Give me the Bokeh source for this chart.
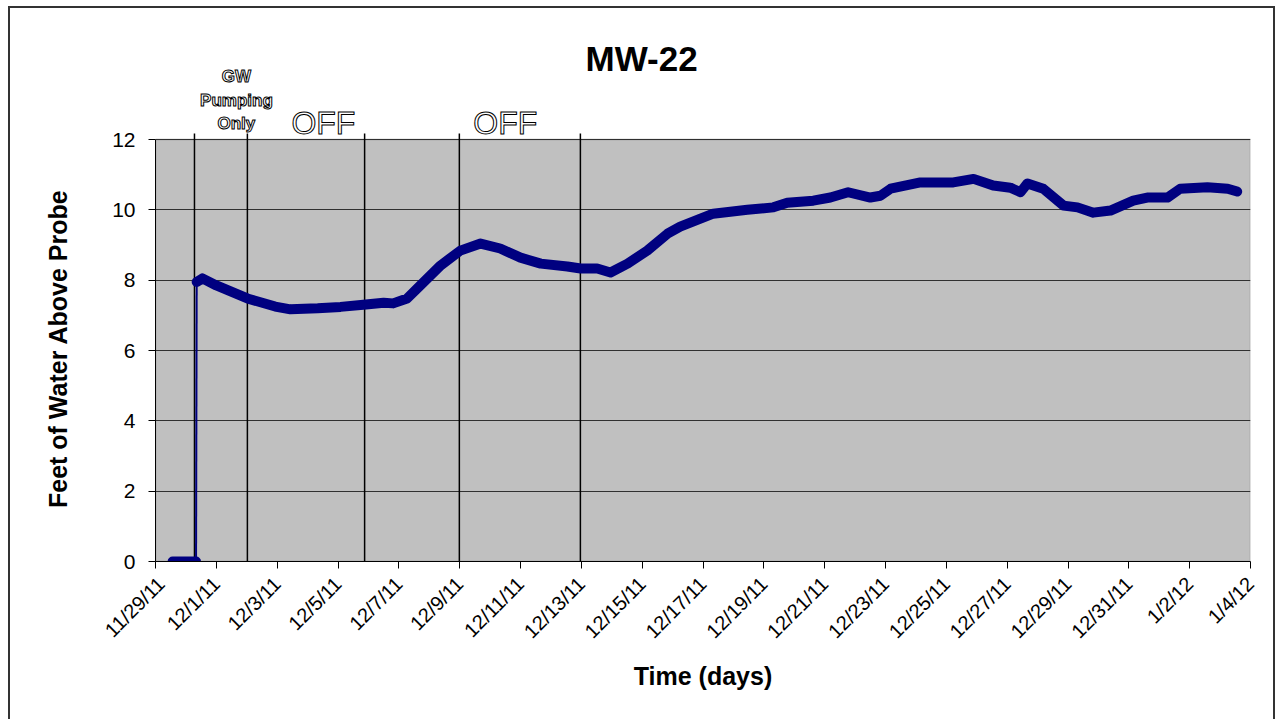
import pandas as pd
from bokeh.plotting import figure
from bokeh.layouts import row
from bokeh.models import Range1d, FixedTicker, Label, BoxAnnotation
from bokeh.embed import file_html
from bokeh.resources import INLINE
import math

# ---------------- data ----------------
start_date = "2011-11-29 00:00"

tick_dates = ["2011-11-29", "2011-12-01", "2011-12-03", "2011-12-05", "2011-12-07",
              "2011-12-09", "2011-12-11", "2011-12-13", "2011-12-15", "2011-12-17",
              "2011-12-19", "2011-12-21", "2011-12-23", "2011-12-25", "2011-12-27",
              "2011-12-29", "2011-12-31", "2012-01-02", "2012-01-04"]
tick_labels = ["11/29/11", "12/1/11", "12/3/11", "12/5/11", "12/7/11", "12/9/11",
               "12/11/11", "12/13/11", "12/15/11", "12/17/11", "12/19/11", "12/21/11",
               "12/23/11", "12/25/11", "12/27/11", "12/29/11", "12/31/11", "1/2/12", "1/4/12"]

y_ticks = [0, 2, 4, 6, 8, 10, 12]

# probe reading before install (zero)
pre_times = ["2011-11-29 13:30", "2011-11-29 20:00", "2011-11-30 02:00", "2011-11-30 08:00"]
pre_level = [0.0, 0.0, 0.0, 0.0]

# water level above probe
level_times = [
    "2011-11-30 08:30", "2011-11-30 13:00", "2011-12-01 00:00", "2011-12-02 00:30",
    "2011-12-02 22:30", "2011-12-03 10:30", "2011-12-04 08:00", "2011-12-05 02:00",
    "2011-12-05 20:00", "2011-12-06 12:00", "2011-12-06 19:30", "2011-12-07 06:30",
    "2011-12-07 17:00", "2011-12-08 09:00", "2011-12-09 00:30", "2011-12-09 16:30",
    "2011-12-10 08:00", "2011-12-11 00:00", "2011-12-11 16:00", "2011-12-12 13:00",
    "2011-12-12 23:30", "2011-12-13 12:30", "2011-12-13 23:00", "2011-12-14 12:30",
    "2011-12-15 04:00", "2011-12-15 20:00", "2011-12-16 06:00", "2011-12-17 08:00",
    "2011-12-18 11:00", "2011-12-19 07:30", "2011-12-19 18:30", "2011-12-20 15:00",
    "2011-12-21 04:30", "2011-12-21 18:30", "2011-12-22 12:00", "2011-12-22 20:00",
    "2011-12-23 04:00", "2011-12-24 03:30", "2011-12-25 05:30", "2011-12-25 21:30",
    "2011-12-26 13:00", "2011-12-27 02:30", "2011-12-27 10:30", "2011-12-27 16:00",
    "2011-12-28 04:30", "2011-12-28 20:30", "2011-12-29 07:30", "2011-12-29 20:00",
    "2011-12-30 09:30", "2011-12-31 03:30", "2011-12-31 14:30", "2012-01-01 06:30",
    "2012-01-01 16:30", "2012-01-02 14:00", "2012-01-03 06:00", "2012-01-03 13:30"]
level_ft = [
    7.95, 8.05, 7.85, 7.48,
    7.25, 7.17, 7.20, 7.24,
    7.30, 7.36, 7.34, 7.48,
    7.85, 8.42, 8.84, 9.04,
    8.90, 8.64, 8.47, 8.39,
    8.33, 8.33, 8.22, 8.47,
    8.84, 9.32, 9.52, 9.89,
    10.00, 10.07, 10.20, 10.26,
    10.35, 10.50, 10.35, 10.40,
    10.60, 10.78, 10.78, 10.88,
    10.69, 10.63, 10.50, 10.75,
    10.60, 10.12, 10.07, 9.92,
    9.98, 10.26, 10.35, 10.35,
    10.60, 10.64, 10.60, 10.52]

# operating-mode change times (vertical markers)
event_times = ["2011-11-30 06:45", "2011-12-02 00:30", "2011-12-05 21:00",
               "2011-12-08 23:45", "2011-12-12 23:15"]

# ---------------- helpers ----------------
t0 = pd.Timestamp(start_date)
def to_days(ts):
    return [(pd.Timestamp(t) - t0) / pd.Timedelta(days=1) for t in ts]

tick_x = to_days(tick_dates)
pre_x = to_days(pre_times)
lvl_x = to_days(level_times)
evt_x = to_days(event_times)

FONT = "Liberation Sans"
NAVY = "#000080"
TOTAL_W, H = 1263, 711
LABEL_W = 90                          # strip holding the y-axis title
TOP, BOTTOM = 12, 158                 # border sizes (px)
PLOT_H = 422                          # pixel height of the grey 0..12 area
frame_h = H - TOP - BOTTOM
y_top = y_ticks[-1] * frame_h / PLOT_H  # frame extends above the grey area for notes
y_range = Range1d(0, y_top)

# ---------------- y-axis title strip ----------------
lab_fig = figure(width=LABEL_W, height=H, output_backend="svg", toolbar_location=None,
                 x_range=Range1d(0, LABEL_W), y_range=y_range,
                 x_axis_location=None, y_axis_location=None,
                 min_border_left=0, min_border_right=0, min_border_top=TOP,
                 min_border_bottom=BOTTOM)
lab_fig.background_fill_color = "white"
lab_fig.border_fill_color = "white"
lab_fig.outline_line_color = None
lab_fig.xgrid.grid_line_color = None
lab_fig.ygrid.grid_line_color = None
lab_fig.add_layout(Label(x=47, y=6.05, text="Feet of Water Above Probe", angle=math.pi / 2,
                         text_align="center", text_baseline="middle", text_font=FONT,
                         text_font_size="25px", text_font_style="bold",
                         text_color="black"))

# ---------------- main chart ----------------
p = figure(width=TOTAL_W - LABEL_W, height=H, output_backend="svg", toolbar_location=None,
           x_range=Range1d(tick_x[0], tick_x[-1]), y_range=y_range,
           min_border_left=55, min_border_right=23, min_border_top=TOP,
           min_border_bottom=BOTTOM)
p.background_fill_color = "white"
p.border_fill_color = "white"
p.outline_line_color = None

plot_area = BoxAnnotation(bottom=y_ticks[0], top=y_ticks[-1], fill_color="#C0C0C0",
                          fill_alpha=1.0, line_color="#808080", line_width=2,
                          level="image")
p.add_layout(plot_area)

p.xgrid.grid_line_color = None
p.ygrid.ticker = FixedTicker(ticks=y_ticks)
p.ygrid.grid_line_color = "#303030"
p.ygrid.grid_line_width = 1

xa = p.xaxis[0]
xa.ticker = FixedTicker(ticks=tick_x)
xa.major_label_overrides = {tx: lab for tx, lab in zip(tick_x, tick_labels)}
xa.major_label_orientation = math.pi / 4
xa.major_label_text_font = FONT
xa.major_label_text_font_size = "20px"
xa.major_label_text_color = "black"
xa.major_label_standoff = 12
xa.major_tick_out = 7
xa.major_tick_in = 0
xa.minor_tick_out = 0
xa.minor_tick_in = 0
xa.axis_line_color = "black"
xa.major_tick_line_color = "black"
xa.axis_label = "Time (days)"
xa.axis_label_text_font = FONT
xa.axis_label_text_font_size = "25px"
xa.axis_label_text_font_style = "bold"
xa.axis_label_text_color = "black"
xa.axis_label_standoff = 9

ya = p.yaxis[0]
ya.bounds = (y_ticks[0], y_ticks[-1])
ya.ticker = FixedTicker(ticks=y_ticks)
ya.major_label_text_font = FONT
ya.major_label_text_font_size = "21px"
ya.major_label_text_color = "black"
ya.major_label_standoff = 13
ya.major_tick_out = 7
ya.major_tick_in = 0
ya.minor_tick_out = 0
ya.minor_tick_in = 0
ya.axis_line_color = "black"
ya.major_tick_line_color = "black"

# event markers
p.segment(x0=evt_x, y0=[0] * len(evt_x), x1=evt_x, y1=[12.17] * len(evt_x),
          line_color="black", line_width=1.5)

# data
p.line(pre_x, pre_level, line_color=NAVY, line_width=10, line_cap="round", line_join="round")
p.line([pre_x[-1], lvl_x[0]], [pre_level[-1], level_ft[0]], line_color=NAVY, line_width=2)
p.line(lvl_x, level_ft, line_color=NAVY, line_width=10, line_cap="round", line_join="round")

# chart title (centred over the whole chart)
p.add_layout(Label(x=15.98, y=14.30, text="MW-22", text_align="center",
                   text_baseline="middle", text_font=FONT, text_font_size="35px",
                   text_font_style="bold", text_color="black"))

# outlined notes above the grey area
def outlined(x, y, text, size, bold=False):
    p.add_layout(Label(x=x, y=y, text=text, text_align="center", text_baseline="middle",
                       text_font=FONT, text_font_size=size,
                       text_font_style="bold" if bold else "normal",
                       text_color="white", text_outline_color="black"))

outlined(2.66, 13.78, "GW", "17px", bold=True)
outlined(2.66, 13.10, "Pumping", "17px", bold=True)
outlined(2.66, 12.45, "Only", "17px", bold=True)
outlined(5.52, 12.48, "OFF", "32px")
outlined(11.5, 12.48, "OFF", "32px")

layout = row(lab_fig, p, spacing=0)
layout.styles = {"outline": "2px solid #333333", "margin-left": "10px", "margin-top": "8px"}

open("out.html", "w").write(file_html(layout, INLINE))
